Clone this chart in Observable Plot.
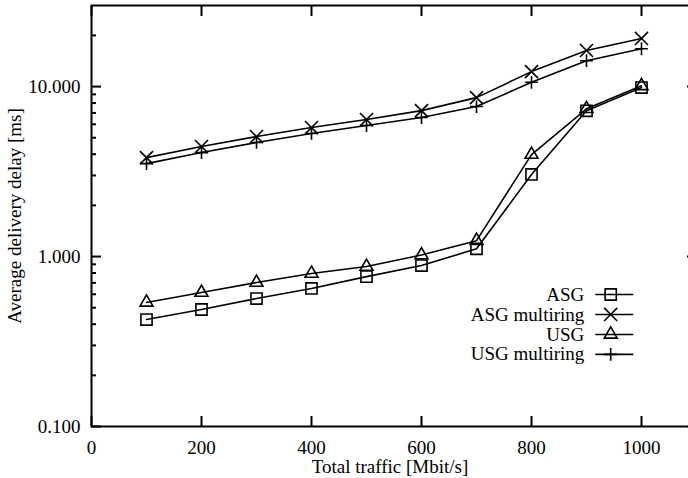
<!DOCTYPE html>
<html><head><meta charset="utf-8">
<script src="https://cdn.jsdelivr.net/npm/d3@7"></script>
<script src="https://cdn.jsdelivr.net/npm/@observablehq/plot@0.6"></script>
<style>html,body{margin:0;padding:0;background:#fff;overflow:hidden}</style>
</head><body><div id="chart"></div>
<script>
const traffic = [100, 200, 300, 400, 500, 600, 700, 800, 900, 1000];
const asg = [0.426, 0.488, 0.566, 0.649, 0.762, 0.885, 1.11, 3.04, 7.2, 9.87];
const asgMultiring = [3.82, 4.44, 5.08, 5.74, 6.40, 7.22, 8.61, 12.25, 16.3, 19.2];
const usg = [0.537, 0.614, 0.703, 0.795, 0.873, 1.02, 1.24, 3.98, 7.4, 10.1];
const usgMultiring = [3.52, 4.09, 4.69, 5.30, 5.90, 6.58, 7.63, 10.6, 14.2, 16.7];
const seriesNames = ["ASG", "ASG multiring", "USG", "USG multiring"];
const seriesSymbols = ["square", "times", "triangle", "plus"];
const xTicks = [0, 200, 400, 600, 800, 1000];
const yMajorTicks = [0.1, 1, 10];
const yMinorTicks = [0.2,0.3,0.4,0.5,0.6,0.7,0.8,0.9,2,3,4,5,6,7,8,9,20];
const xLabel = "Total traffic [Mbit/s]";
const yLabel = "Average delivery delay [ms]";

const seriesValues = [asg, asgMultiring, usg, usgMultiring];
const symbolRadius = {square: 6.3, times: 6.0, triangle: 4.8, plus: 4.2};
const rows = seriesNames.flatMap((name, i) =>
  traffic.map((t, j) => ({traffic: t, delay: seriesValues[i][j], series: name, symbol: seriesSymbols[i]})));

// legend layout (in data units, inside the plot frame)
const legendRows = seriesNames.map((name, i) => ({
  name, symbol: seriesSymbols[i], y: 0.598 * Math.pow(0.763, i)
}));

const font = "'Liberation Serif', 'Times New Roman', Times, serif";

const dotMarks = seriesSymbols.map(sym => Plot.dot(rows.filter(d => d.symbol === sym), {
  x: "traffic", y: "delay", symbol: () => sym, r: symbolRadius[sym],
  stroke: "black", fill: "none", strokeWidth: 1.6
}));
const legendDots = seriesSymbols.map(sym => Plot.dot(legendRows.filter(d => d.symbol === sym), {
  x: () => 944, y: "y", symbol: () => sym, r: symbolRadius[sym],
  stroke: "black", fill: "none", strokeWidth: 1.6
}));

const chart = Plot.plot({
  width: 688, height: 478,
  marginLeft: 91, marginRight: -8, marginTop: 5, marginBottom: 52,
  style: {fontFamily: font, fontSize: "19px", background: "white", color: "black"},
  x: {domain: [0, 1100]},
  y: {type: "log", domain: [0.1, 30]},
  symbol: {type: "identity"},
  marks: [
    Plot.frame({stroke: "black", strokeWidth: 2}),
    Plot.axisX(xTicks, {anchor: "bottom", tickSize: -10, text: null, strokeWidth: 2, label: null}),
    Plot.axisX(xTicks, {anchor: "top", tickSize: -10, text: null, strokeWidth: 2, label: null}),
    Plot.axisY(yMajorTicks, {anchor: "left", tickSize: -10, text: null, strokeWidth: 2, label: null}),
    Plot.axisY(yMinorTicks, {anchor: "left", tickSize: -5, text: null, strokeWidth: 2, label: null}),
    Plot.axisY(yMajorTicks, {anchor: "right", tickSize: -10, text: null, strokeWidth: 2, label: null}),
    Plot.axisY(yMinorTicks, {anchor: "right", tickSize: -5, text: null, strokeWidth: 1, label: null}),
    Plot.text(xTicks, {x: d => d, frameAnchor: "bottom", dy: 21, lineAnchor: "middle",
      text: d3.format("d"), fontSize: 19, fill: "black"}),
    Plot.text(yMajorTicks, {y: d => d, frameAnchor: "left", dx: -11, textAnchor: "end", lineAnchor: "middle",
      text: d3.format(".3f"), fontSize: 19, fill: "black", letterSpacing: "0.5px"}),
    Plot.text([xLabel], {frameAnchor: "bottom", dx: -4, dy: 40, textAnchor: "middle", lineAnchor: "middle", text: d => d, fontSize: 19, fill: "black"}),
    Plot.text([yLabel], {frameAnchor: "left", dx: -77, rotate: -90, textAnchor: "middle", lineAnchor: "middle", text: d => d, fontSize: 19, fill: "black"}),
    Plot.line(rows, {x: "traffic", y: "delay", z: "series", stroke: "black", strokeWidth: 1.6}),
    ...dotMarks,
    Plot.text(legendRows, {x: () => 896, y: "y", text: "name", textAnchor: "end", lineAnchor: "middle", fontSize: 19, fill: "black"}),
    Plot.link(legendRows, {x1: () => 916, x2: () => 985, y1: "y", y2: "y", stroke: "black", strokeWidth: 1.6}),
    ...legendDots
  ]
});
document.getElementById("chart").appendChild(chart);
</script>
</body></html>
